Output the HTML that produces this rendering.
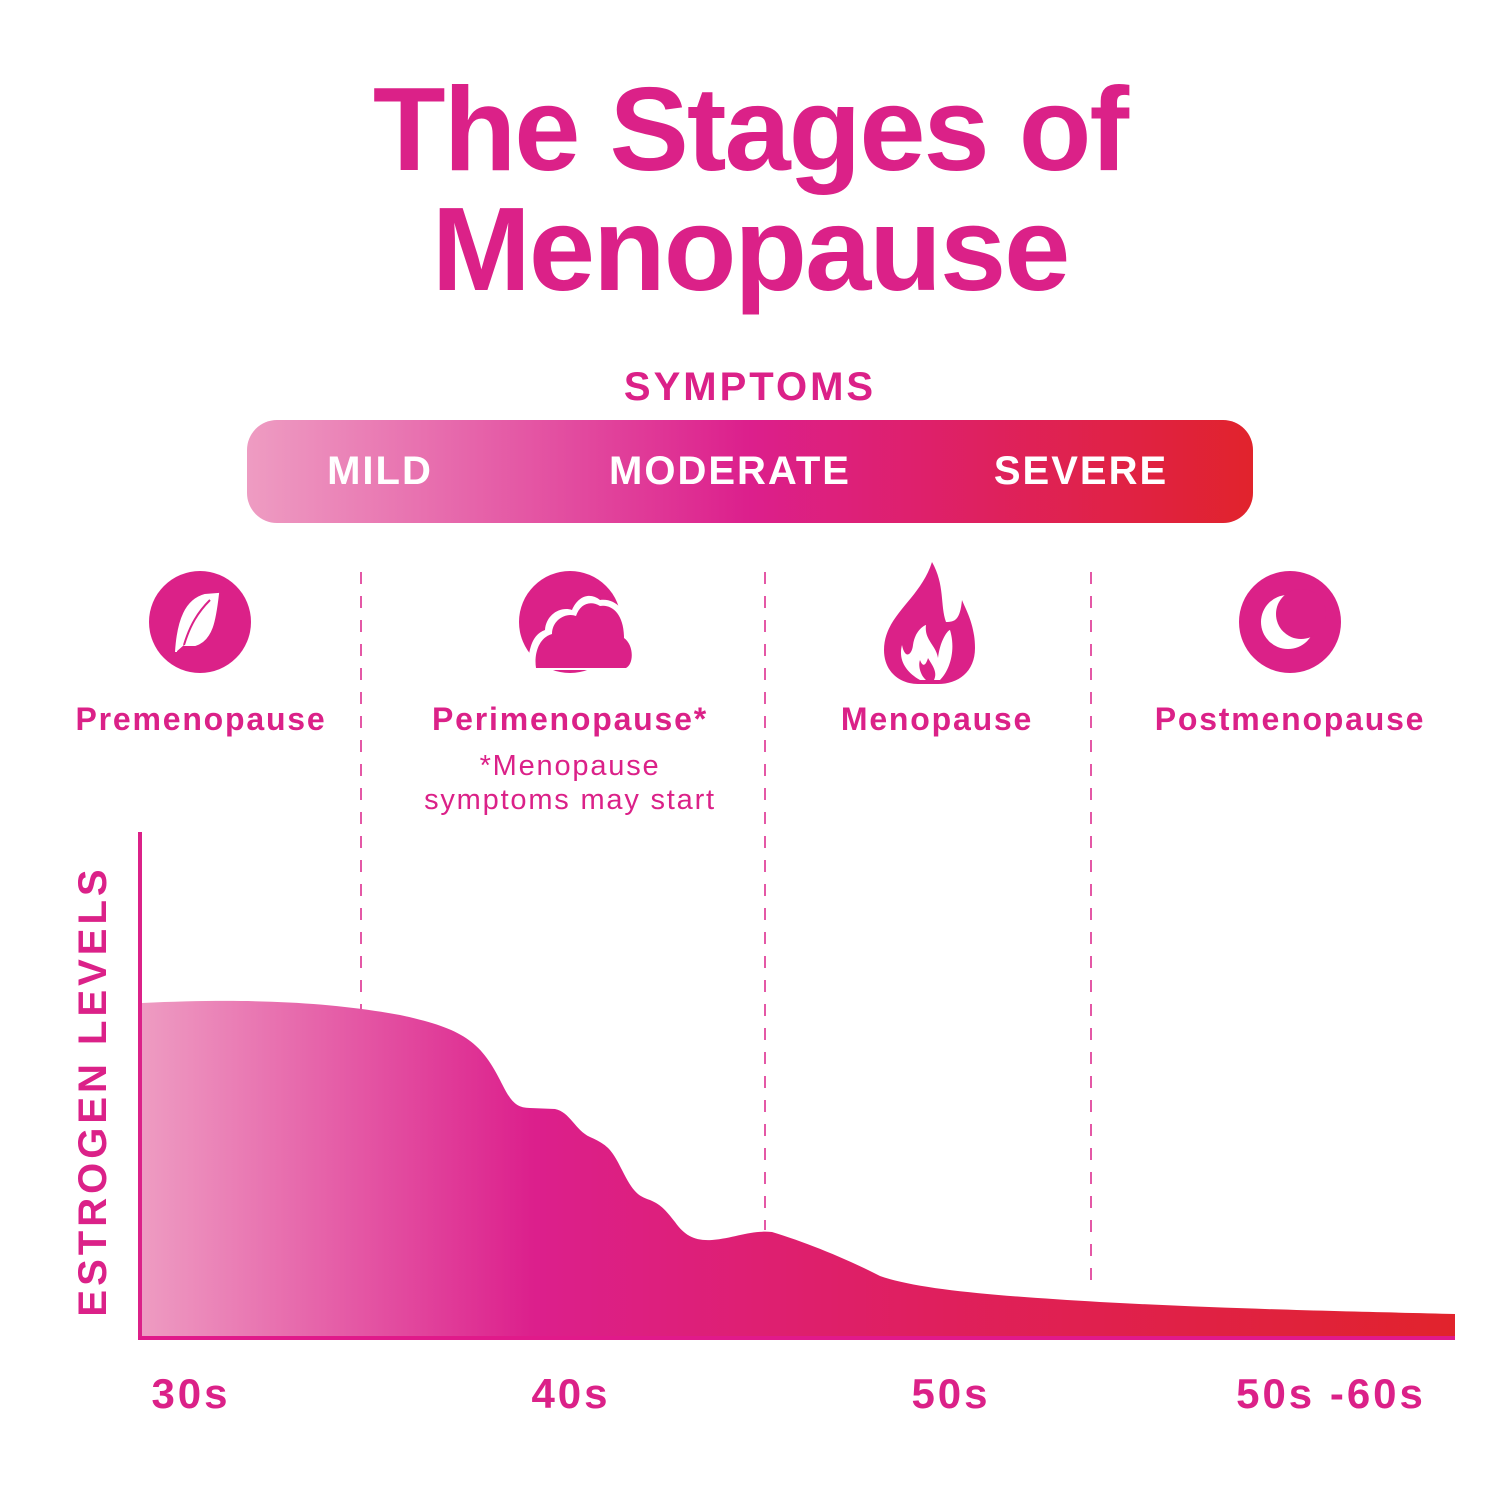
<!DOCTYPE html>
<html><head><meta charset="utf-8"><style>
html,body{margin:0;padding:0;background:#fff;}
svg{display:block;font-family:"Liberation Sans",sans-serif;}
</style></head><body>
<svg width="1500" height="1500" viewBox="0 0 1500 1500" xmlns="http://www.w3.org/2000/svg">
<defs>
<linearGradient id="bar" x1="0" x2="1" y1="0" y2="0">
<stop offset="0" stop-color="#ee9cc2"/><stop offset="0.5" stop-color="#dc1f8c"/><stop offset="1" stop-color="#e1232c"/>
</linearGradient>
<linearGradient id="area" x1="140" x2="1455" y1="0" y2="0" gradientUnits="userSpaceOnUse">
<stop offset="0" stop-color="#ee9cc2"/><stop offset="0.3" stop-color="#dc1f8c"/><stop offset="0.6" stop-color="#df1f5e"/><stop offset="1" stop-color="#e1232c"/>
</linearGradient>
</defs>
<g fill="#db2188" font-weight="bold" text-anchor="middle">
<text x="750" y="170" font-size="119" letter-spacing="-2">The Stages of</text>
<text x="750" y="290" font-size="119" letter-spacing="-2">Menopause</text>
<text x="750" y="400" font-size="40" letter-spacing="3">SYMPTOMS</text>
</g>
<rect x="247" y="420" width="1006" height="103" rx="30" fill="url(#bar)"/>
<g fill="#fff" font-weight="bold" font-size="40" text-anchor="middle" letter-spacing="2">
<text x="380" y="484">MILD</text><text x="730" y="484">MODERATE</text><text x="1081" y="484">SEVERE</text>
</g>
<g stroke="#db2188" stroke-width="1.5" stroke-dasharray="12,12">
<line x1="361" y1="572" x2="361" y2="1010"/>
<line x1="765" y1="572" x2="765" y2="1230"/>
<line x1="1091" y1="572" x2="1091" y2="1285"/>
</g>
<!-- icons -->
<circle cx="200" cy="622" r="51" fill="#db2188"/>
<path d="M176,652 C178,620 186,600 205,595 L218,594 C215,620 212,640 195,645 L184,645 M184,645 C188,625 195,612 208,600" fill="#fff" stroke="#fff" stroke-width="2"/>
<path d="M184,645 C190,625 198,612 210,600" fill="none" stroke="#db2188" stroke-width="2"/>
<circle cx="570" cy="622" r="51" fill="#db2188"/>
<path d="M528,670 L628,670 C638,665 638,640 628,632 C628,610 615,598 600,600 C590,592 578,596 572,610 C560,606 546,615 545,630 C530,635 528,655 528,670Z" fill="#fff"/>
<path d="M536,668 L626,668 C634,664 634,645 624,638 C624,614 612,604 600,606 C590,600 580,604 576,616 C566,612 552,620 552,634 C538,638 534,655 536,668Z" fill="#db2188"/>
<path d="M932,562 C920,600 884,615 884,650 C884,672 900,684 918,684 L938,684 C958,684 975,672 975,648 C975,625 966,610 962,600 C960,620 955,622 946,622 C940,605 945,585 932,562Z" fill="#db2188"/>
<path d="M920,680 C906,672 898,660 902,645 C905,660 912,655 913,645 C915,630 925,625 926,625 C924,640 936,645 938,658 C940,640 948,630 950,630 C956,650 950,670 940,680Z" fill="#fff"/>
<path d="M926,680 C920,675 918,665 920,660 C923,668 926,665 928,658 C932,665 938,672 934,680Z" fill="#db2188"/>
<circle cx="1290" cy="622" r="51" fill="#db2188"/>
<circle cx="1288" cy="622" r="27" fill="#fff"/>
<circle cx="1301" cy="614" r="25" fill="#db2188"/>
<g fill="#db2188" font-weight="bold" font-size="32" text-anchor="middle" letter-spacing="1.8">
<text x="201" y="730">Premenopause</text><text x="570" y="730">Perimenopause*</text>
<text x="937" y="730">Menopause</text><text x="1290" y="730">Postmenopause</text>
</g>
<g fill="#db2188" font-size="29" text-anchor="middle" letter-spacing="1.8">
<text x="570" y="775">*Menopause</text><text x="570" y="809">symptoms may start</text>
</g>
<path d="M142,1003 C250,998 330,1002 400,1015 C460,1028 480,1040 500,1080 C510,1100 515,1108 530,1108 L555,1109 C570,1112 575,1130 590,1137 C608,1145 612,1150 622,1170 C633,1192 638,1196 650,1200 C662,1205 667,1212 675,1222 C685,1236 695,1241 712,1240 C735,1238 750,1230 772,1232 C805,1242 845,1258 880,1276 C920,1290 1000,1296 1100,1302 C1250,1310 1380,1312 1455,1314 L1455,1338 L142,1338Z" fill="url(#area)"/>
<line x1="140" y1="832" x2="140" y2="1340" stroke="#db2188" stroke-width="4"/>
<line x1="138" y1="1338" x2="1455" y2="1338" stroke="#e01a8a" stroke-width="4"/>
<text transform="translate(106,1091) rotate(-90)" fill="#db2188" font-weight="bold" font-size="40" text-anchor="middle" letter-spacing="4">ESTROGEN LEVELS</text>
<g fill="#db2188" font-weight="bold" font-size="42" text-anchor="middle" letter-spacing="3">
<text x="191" y="1408">30s</text><text x="571" y="1408">40s</text><text x="951" y="1408">50s</text><text x="1331" y="1408">50s -60s</text>
</g>
</svg>
</body></html>
